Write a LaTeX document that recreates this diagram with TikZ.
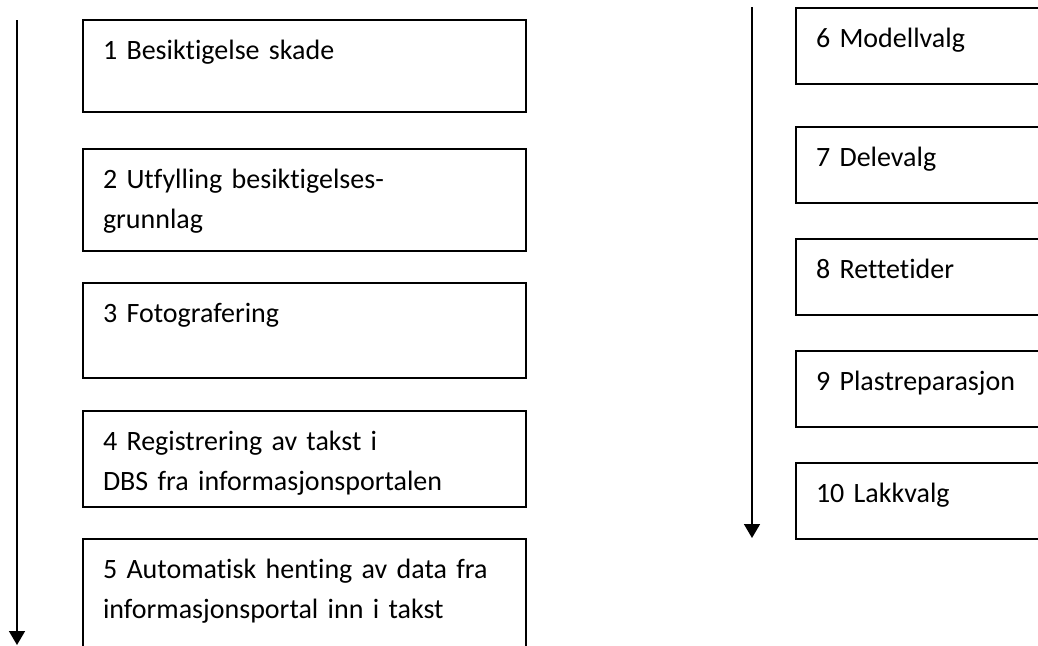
\documentclass[tikz,border=0pt]{standalone}
\usepackage{fontspec}
\setmainfont{Carlito}[Ligatures = NoCommon]
\usetikzlibrary{arrows.meta}

\begin{document}
\begin{tikzpicture}[x = 1pt, y = -1pt, font=\fontsize{28pt}{40pt}\selectfont]
\tikzstyle{stepStyle} = [draw, line width = 1.6pt, anchor = north west, outer sep = 0pt, inner xsep = 20pt, inner ysep = 0pt, align = left, text height = 39pt]
\tikzstyle{leftStyle} = [stepStyle, text width = 403pt]
\tikzstyle{rightStyle} = [stepStyle, text width = 260pt]
\tikzstyle{flowStyle} = [line width = 1.6pt, -{Triangle[length = 14pt, width = 16pt]}]
\clip (0,0) rectangle (1038,645);
\node[leftStyle, text depth = 53pt] (s1) at (83,20) {1 Besiktigelse skade};
\node[leftStyle, text depth = 63pt] (s2) at (83,149) {2 Utfylling besiktigelses-\\grunnlag};
\node[leftStyle, text depth = 56pt] (s3) at (83,283) {3 Fotografering};
\node[leftStyle, text depth = 57pt] (s4) at (83,411) {4 Registrering av takst i\\DBS fra informasjonsportalen};
\node[leftStyle, text depth = 81pt] (s5) at (83,539) {5 Automatisk henting av data fra\\informasjonsportal inn i takst};
\node[rightStyle, text depth = 37pt] (s6) at (796,8) {6 Modellvalg};
\node[rightStyle, text depth = 37pt] (s7) at (796,127) {7 Delevalg};
\node[rightStyle, text depth = 37pt] (s8) at (796,239) {8 Rettetider};
\node[rightStyle, text depth = 37pt] (s9) at (796,351) {9 Plastreparasjon};
\node[rightStyle, text depth = 37pt] (s10) at (796,463) {10 Lakkvalg};
\coordinate (l0) at (17,20);
\coordinate (l1) at (17,645);
\coordinate (r0) at (752,7);
\coordinate (r1) at (752,538);
\draw[flowStyle] (l0) -- (l1);
\draw[flowStyle] (r0) -- (r1);
\end{tikzpicture}
\end{document}
